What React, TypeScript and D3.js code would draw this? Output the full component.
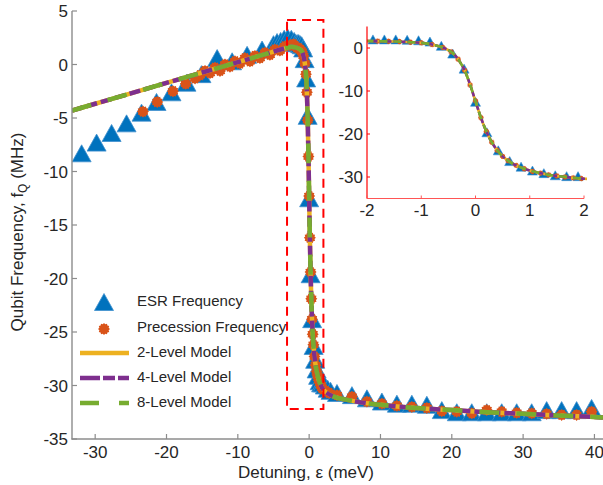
import React from 'react';
import * as d3 from 'd3';

const W = 603;
const H = 485;

// ---- axis ticks ----
const xTicks = [-30, -20, -10, 0, 10, 20, 30, 40];
const yTicks = [5, 0, -5, -10, -15, -20, -25, -30, -35];
const insetXTicks = [-2, -1, 0, 1, 2];
const insetYTicks = [0, -10, -20, -30];

// ---- ESR frequency (triangles) ----
const esrEps = [
  -31.9, -29.8, -27.7, -25.6, -23.5, -21.4, -19.3, -17.2, -15.1, -12.9, -10.8, -8.7, -6.6,
  -5.0, -4.5, -4.0, -3.5, -3.0, -2.5, -2.1,
  -1.89, -1.68, -1.47, -1.26, -1.05, -0.84, -0.63, -0.42, -0.21, 0.0, 0.21, 0.42, 0.63, 0.84,
  1.05, 1.26, 1.47, 1.68, 1.89,
  2.2, 2.6, 3.0,
  3.9, 6.0, 8.1, 10.2, 12.3, 14.4, 16.5, 18.6, 20.7, 22.8, 24.9, 27.0, 29.1, 31.2, 33.3, 35.4,
  37.5, 39.6,
];
const esrFreq = [
  -8.3, -7.3, -6.4, -5.5, -4.5, -3.5, -2.6, -1.7, -0.9, 0.6, 0.3, 0.9, 1.4,
  1.9, 2.1, 2.2, 2.4, 2.5, 2.4, 2.2,
  2.0, 2.0, 2.0, 1.9, 1.8, 1.5, 0.5, -1.3, -4.8, -12.5, -19.6, -23.8, -26.3, -27.6,
  -28.5, -29.1, -29.6, -29.8, -29.8,
  -30.0, -30.3, -30.5,
  -30.7, -30.9, -31.2, -31.5, -31.7, -31.7, -31.8, -32.3, -32.5, -32.5, -32.5, -32.5, -32.5,
  -32.5, -32.3, -32.3, -32.3, -32.1,
];

// ---- Precession frequency (orange) ----
const precEps = [
  -23.3, -21.3, -19.1, -17.3,
  -16.0, -15.3, -14.6, -13.9, -13.2, -12.5, -11.8, -11.1, -10.4, -9.7, -9.0, -8.3, -7.6, -6.9,
  -6.2, -5.5, -4.8, -4.1, -3.4, -2.7, -2.2,
  -1.8, -1.6, -1.4, -1.2, -1.0, -0.8, -0.6, -0.45, -0.32, -0.2, -0.1, 0.0, 0.1, 0.2, 0.3, 0.4,
  0.5, 0.6, 0.75, 0.9, 1.05, 1.2, 1.35, 1.5, 1.65, 1.8, 1.95,
  2.3, 2.8,
  3.9, 6.0, 8.1, 10.2, 12.3, 14.4, 16.5, 18.6, 20.7, 22.8, 24.9, 27.0, 29.1, 31.2, 33.3, 35.4,
  37.5, 39.6,
];
const precFreq = [
  -4.4, -3.5, -2.5, -1.8,
  -1.3, -1.0, -0.6, -0.8, -0.3, -0.6, 0.0, -0.2, 0.3, 0.1, 0.6, 0.3, 0.8, 0.6,
  1.1, 0.9, 1.4, 1.3, 1.7, 1.8, 1.9,
  1.6, 1.55, 1.5, 1.35, 1.2, 0.8, 0.1, -0.9, -2.6, -5.2, -8.6, -12.3, -16.2, -19.4, -21.9, -23.8,
  -25.2, -26.2, -27.3, -28.1, -28.7, -29.1, -29.5, -29.75, -30.0, -30.2, -30.35,
  -30.5, -30.7,
  -30.9, -31.05, -31.5, -31.7, -31.9, -32.0, -32.1, -32.4, -32.45, -32.6, -32.3, -32.45, -32.55,
  -32.6, -32.65, -32.75, -32.75, -32.45,
];

// ---- model curves ----
const modelEps = [
  -33.25, -30, -25, -20, -15, -10, -7, -5, -4, -3, -2.5, -2.0, -1.5, -1.0, -0.8, -0.6, -0.5, -0.4,
  -0.3, -0.2, -0.1, 0, 0.1, 0.2, 0.3, 0.4, 0.5, 0.6, 0.7, 0.8, 1.0, 1.2, 1.4, 1.6, 1.8, 2.0, 2.5,
  3.0, 4.0, 5.0, 7.5, 10, 15, 20, 25, 30, 35, 40, 41.2,
];
const level2Freq = [
  -4.3, -3.67, -2.7, -1.72, -0.75, 0.22, 0.8, 1.2, 1.4, 1.58, 1.65, 1.62, 1.5, 1.2, 0.8, 0.1, -0.5,
  -1.4, -3.0, -5.2, -8.5, -12.4, -16.2, -19.4, -21.9, -23.8, -25.2, -26.2, -27.0, -27.6, -28.5,
  -29.1, -29.6, -29.9, -30.2, -30.4, -30.7, -30.9, -31.15, -31.3, -31.6, -31.8, -32.1, -32.3,
  -32.5, -32.65, -32.8, -32.95, -33.0,
];
const level4Freq = [...level2Freq];
const level8Freq = [...level2Freq];

const legendLabels = ['ESR Frequency', 'Precession Frequency', '2-Level Model', '4-Level Model', '8-Level Model'];

const FONT = '"Liberation Sans", Arial, Helvetica, sans-serif';
const TEXT = '#262626';
const AXIS = '#8c8c8c';
const BLUE = '#0072BD';
const BLUE_EDGE = '#3f8fce';
const ORANGE = '#D95319';
const YELLOW = '#EDB120';
const PURPLE = '#7E2F8E';
const GREEN = '#77AC30';

function triPath(w: number, h: number) {
  return `M0,${-h / 2}L${w / 2},${h / 2}L${-w / 2},${h / 2}Z`;
}
function starPath(ro: number, ri: number, n = 12) {
  const pts: string[] = [];
  for (let i = 0; i < n * 2; i++) {
    const r = i % 2 === 0 ? ro : ri;
    const a = (Math.PI * i) / n - Math.PI / 2;
    pts.push(`${(r * Math.cos(a)).toFixed(2)},${(r * Math.sin(a)).toFixed(2)}`);
  }
  return 'M' + pts.join('L') + 'Z';
}

export default function App() {
  const x = d3.scaleLinear().domain([-33.25, 41.2]).range([72, 603]);
  const y = d3.scaleLinear().domain([-35, 5]).range([439, 11]);
  const ix = d3.scaleLinear().domain([-2, 2]).range([367, 584]);
  const iy = d3.scaleLinear().domain([-35, 5]).range([198.5, 26.5]);

  const esr = esrEps.map((e, i) => ({ e, f: esrFreq[i] }));
  const prec = precEps.map((e, i) => ({ e, f: precFreq[i] }));
  const models = [
    { vals: level2Freq, color: YELLOW, dash: undefined as string | undefined, idash: undefined as string | undefined },
    { vals: level4Freq, color: PURPLE, dash: '11,4', idash: '5,2' },
    { vals: level8Freq, color: GREEN, dash: '20,17', idash: '8,6' },
  ];

  const mainLine = (vals: number[]) =>
    d3.line<number>().x((_, i) => x(modelEps[i])).y((v) => y(v)).curve(d3.curveMonotoneX)(vals) || '';
  const insetLine = (vals: number[]) =>
    d3.line<number>().x((_, i) => ix(modelEps[i])).y((v) => iy(v)).curve(d3.curveMonotoneX)(vals) || '';

  const tri = triPath(19, 17);
  const star = starPath(6.0, 4.8);
  const triS = triPath(10, 9);
  const starS = starPath(3.0, 2.3);

  const insetEsr = esr.filter((d) => d.e >= -2.05 && d.e <= 2.05);
  const insetPrec = prec.filter((d) => d.e >= -2.05 && d.e <= 2.05);

  const legendY = [306, 332, 357, 382, 407];

  return (
    <svg width={W} height={H} style={{ position: 'absolute', left: 0, top: 0, background: '#fff' }} fontFamily={FONT}>
      <defs>
        <clipPath id="mainClip">
          <rect x={72} y={0} width={531} height={439} />
        </clipPath>
        <clipPath id="insetClip">
          <rect x={367} y={22} width={220} height={176.5} />
        </clipPath>
      </defs>
      <rect x={0} y={0} width={W} height={H} fill="#fff" />

      {/* main data */}
      <g clipPath="url(#mainClip)">
        {esr.map((d, i) => (
          <path key={'t' + i} d={tri} transform={`translate(${x(d.e)},${y(d.f)})`} fill={BLUE} stroke={BLUE_EDGE} strokeWidth={0.8} />
        ))}
        {prec.map((d, i) => (
          <path key={'p' + i} d={star} transform={`translate(${x(d.e)},${y(d.f)})`} fill={ORANGE} />
        ))}
        {models.map((m, i) => (
          <path key={'m' + i} d={mainLine(m.vals)} fill="none" stroke={m.color} strokeWidth={4.5} strokeDasharray={m.dash} />
        ))}
      </g>

      {/* main axes */}
      <line x1={72} x2={72} y1={11} y2={439.5} stroke={AXIS} strokeWidth={1.4} />
      <line x1={71.5} x2={603} y1={439} y2={439} stroke={AXIS} strokeWidth={1.4} />
      {yTicks.map((t) => (
        <g key={'yt' + t}>
          <line x1={72} x2={77} y1={y(t)} y2={y(t)} stroke={AXIS} strokeWidth={1.2} />
          <text x={68} y={y(t) + 6} textAnchor="end" fontSize={17} fill={TEXT}>{String(t)}</text>
        </g>
      ))}
      {xTicks.map((t) => (
        <g key={'xt' + t}>
          <line x1={x(t)} x2={x(t)} y1={439} y2={434} stroke={AXIS} strokeWidth={1.2} />
          <text x={x(t)} y={458} textAnchor="middle" fontSize={17} fill={TEXT}>{String(t)}</text>
        </g>
      ))}
      <text x={306} y={478} textAnchor="middle" fontSize={17} fill={TEXT}>Detuning, ε (meV)</text>
      <text transform="translate(23,232) rotate(-90)" textAnchor="middle" fontSize={17} fill={TEXT}>
        Qubit Frequency, f<tspan fontSize={12} dy={4}>Q</tspan><tspan dy={-4}> (MHz)</tspan>
      </text>

      {/* red dashed box */}
      <rect
        x={x(-3.1)}
        y={y(4.15)}
        width={x(2.0) - x(-3.1)}
        height={y(-32.2) - y(4.15)}
        fill="none"
        stroke="#ff0000"
        strokeWidth={2}
        strokeDasharray="9,6"
      />

      {/* legend */}
      <path d={tri} transform={`translate(104,${legendY[0] - 4})`} fill={BLUE} stroke={BLUE_EDGE} strokeWidth={0.8} />
      <path d={star} transform={`translate(104,${legendY[1] - 3})`} fill={ORANGE} />
      <line x1={80} x2={129} y1={legendY[2] - 4} y2={legendY[2] - 4} stroke={YELLOW} strokeWidth={4.5} />
      <line x1={80} x2={129} y1={legendY[3] - 4} y2={legendY[3] - 4} stroke={PURPLE} strokeWidth={4.5} strokeDasharray="20,3,12,3" />
      <line x1={80} x2={129} y1={legendY[4] - 4} y2={legendY[4] - 4} stroke={GREEN} strokeWidth={4.5} strokeDasharray="19,20" />
      {legendLabels.map((l, i) => (
        <text key={'lg' + i} x={137} y={legendY[i]} fontSize={15} fill={TEXT}>{l}</text>
      ))}

      {/* inset */}
      <g clipPath="url(#insetClip)">
        {insetEsr.map((d, i) => (
          <path key={'it' + i} d={triS} transform={`translate(${ix(d.e)},${iy(d.f)})`} fill={BLUE} stroke={BLUE_EDGE} strokeWidth={0.6} />
        ))}
        {insetPrec.map((d, i) => (
          <path key={'ip' + i} d={starS} transform={`translate(${ix(d.e)},${iy(d.f)})`} fill={ORANGE} />
        ))}
        {models.map((m, i) => (
          <path key={'im' + i} d={insetLine(m.vals)} fill="none" stroke={m.color} strokeWidth={2.6} strokeDasharray={m.idash} />
        ))}
      </g>
      <line x1={367} x2={367} y1={26.5} y2={198.5} stroke="#ff0000" strokeWidth={1.2} />
      <line x1={367} x2={584} y1={198.5} y2={198.5} stroke="#ff5555" strokeWidth={1.2} />
      {insetYTicks.map((t) => (
        <g key={'iyt' + t}>
          <line x1={367} x2={370} y1={iy(t)} y2={iy(t)} stroke="#ff0000" strokeWidth={1} />
          <text x={363} y={iy(t) + 6} textAnchor="end" fontSize={17} fill={TEXT}>{String(t)}</text>
        </g>
      ))}
      {insetXTicks.map((t) => (
        <g key={'ixt' + t}>
          <line x1={ix(t)} x2={ix(t)} y1={198.5} y2={195.5} stroke="#ff5555" strokeWidth={1} />
          <text x={ix(t)} y={216} textAnchor="middle" fontSize={17} fill={TEXT}>{String(t)}</text>
        </g>
      ))}
    </svg>
  );
}
